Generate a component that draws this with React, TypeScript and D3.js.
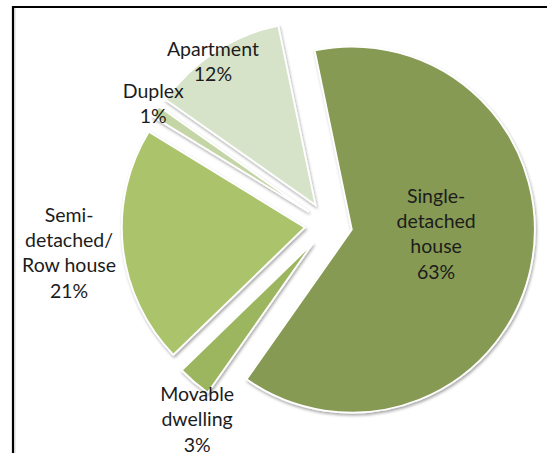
import React from "react";
import * as d3 from "d3";

const categories = ["Single-detached house", "Movable dwelling", "Semi-detached/ Row house", "Duplex", "Apartment"];
const values = [63, 3, 21, 1, 12];
const labelLines = [
  ["Single-", "detached", "house"],
  ["Movable", "dwelling"],
  ["Semi-", "detached/", "Row house"],
  ["Duplex"],
  ["Apartment"],
];
const colors = ["#869a52", "#9cb660", "#abc46c", "#c5d6a6", "#d7e3c9"];

// layout (not data)
const W = 547;
const H = 453;
const CX = 328.5;
const CY = 224.8;
const R = 183;
const EXPLODE = 23.8;
const START_DEG = -11.7;
// label anchor (polar from pie centre): angle (deg, clockwise from top) and radius
const labelPolar = [
  { a: 94.8, r: 108 },
  { a: 214, r: 235 },
  { a: 263.8, r: 261 },
  { a: 304.6, r: 213 },
  { a: 324.7, r: 200 },
];
const LINE_H = 25.3;
const FONT = "Lato, 'Open Sans', sans-serif";
const FONT_SIZE = 19.5;

export default function App() {
  const start = (START_DEG * Math.PI) / 180;
  const pie = d3
    .pie<number>()
    .value((d) => d)
    .sort(null)
    .startAngle(start)
    .endAngle(start + 2 * Math.PI);
  const arcs = pie(values);
  const arc = d3.arc<d3.PieArcDatum<number>>().innerRadius(0).outerRadius(R);

  return (
    <svg
      width={W}
      height={H}
      style={{ position: "absolute", left: 0, top: 0, background: "#fff" }}
    >
      <defs>
        <filter id="sh" x="-20%" y="-20%" width="140%" height="140%">
          <feDropShadow dx="1" dy="2" stdDeviation="1.6" floodColor="#000" floodOpacity="0.35" />
        </filter>
      </defs>
      <rect x={0} y={0} width={W} height={H} fill="#fff" />
      <line x1={15} y1={8} x2={15} y2={H} stroke="#d8d8d8" strokeWidth={1} />
      <path d={`M13,${H} L13,7 L${W},7`} fill="none" stroke="#000" strokeWidth={2.2} />
      <g transform={`translate(${CX},${CY})`}>
        {arcs.map((a, i) => {
          const mid = (a.startAngle + a.endAngle) / 2;
          const dx = Math.sin(mid) * EXPLODE;
          const dy = -Math.cos(mid) * EXPLODE;
          return (
            <path
              key={categories[i]}
              d={arc(a) || ""}
              transform={`translate(${dx},${dy})`}
              fill={colors[i]}
              stroke="#fff"
              strokeWidth={1.8}
              strokeLinejoin="miter"
              filter="url(#sh)"
            />
          );
        })}
        {arcs.map((a, i) => {
          const lp = labelPolar[i];
          const ang = (lp.a * Math.PI) / 180;
          const x = Math.sin(ang) * lp.r;
          const y = -Math.cos(ang) * lp.r;
          const lines = [...labelLines[i], `${values[i]}%`];
          const n = lines.length;
          const y0 = y - ((n - 1) * LINE_H) / 2 + FONT_SIZE * 0.35;
          return (
            <text
              key={"l" + i}
              x={x}
              y={y0}
              textAnchor="middle"
              fontFamily={FONT}
              fontSize={FONT_SIZE}
              fill="#1c1c1c"
            >
              {lines.map((t, j) => (
                <tspan key={j} x={x} y={y0 + j * LINE_H}>
                  {t}
                </tspan>
              ))}
            </text>
          );
        })}
      </g>
    </svg>
  );
}
